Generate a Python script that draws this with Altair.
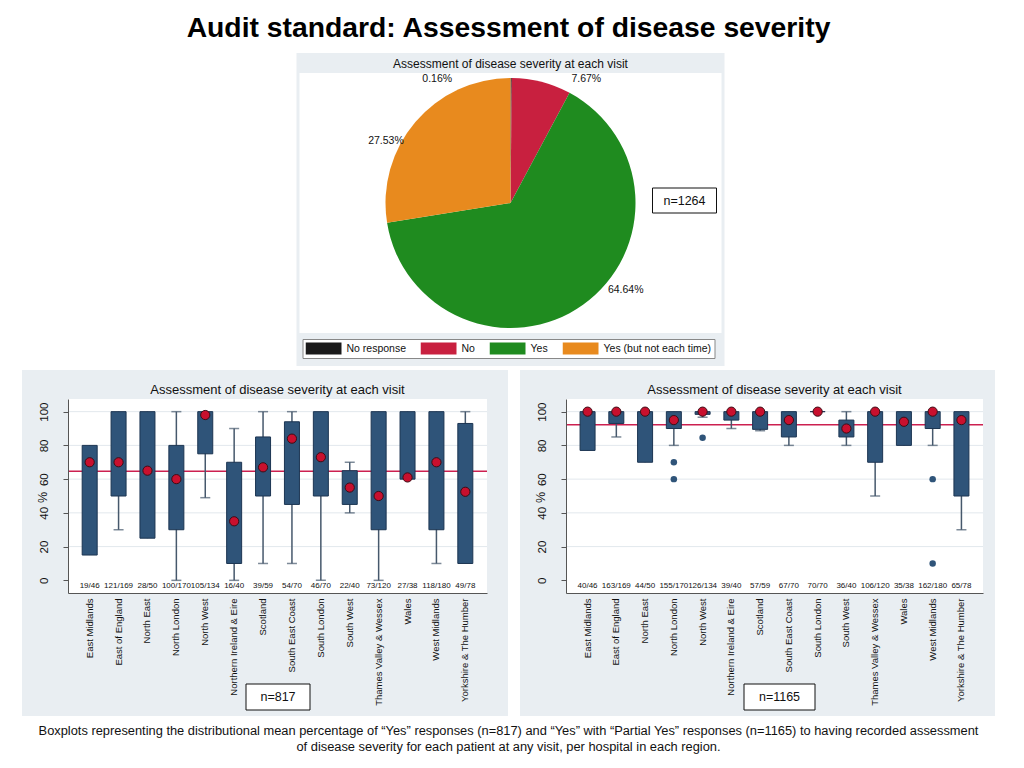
import math
import altair as alt
import pandas as pd

# ---------------- data ----------------
title_text = "Audit standard: Assessment of disease severity"
panel_title = "Assessment of disease severity at each visit"
caption_lines = [
    "Boxplots representing the distributional mean percentage of \u201cYes\u201d responses (n=817) and \u201cYes\u201d with \u201cPartial Yes\u201d responses (n=1165) to having recorded assessment",
    "of disease severity for each patient at any visit, per hospital in each region.",
]

pie_categories = ["No response", "No", "Yes", "Yes (but not each time)"]
pie_percent = [0.16, 7.67, 64.64, 27.53]
pie_labels = ["0.16%", "7.67%", "64.64%", "27.53%"]
pie_n = "n=1264"

regions = ["East Midlands", "East of England", "North East", "North London", "North West",
           "Northern Ireland & Eire", "Scotland", "South East Coast", "South London", "South West",
           "Thames Valley & Wessex", "Wales", "West Midlands", "Yorkshire & The Humber"]

# "Yes" responses (left)
yes_counts = ["19/46", "121/169", "28/50", "100/170", "105/134", "16/40", "39/59", "54/70",
              "46/70", "22/40", "73/120", "27/38", "118/180", "49/78"]
yes_q1 = [15, 50, 25, 30, 75, 10, 50, 45, 50, 45, 30, 60, 30, 10]
yes_q3 = [80, 100, 100, 80, 100, 70, 85, 94, 100, 65, 100, 100, 100, 93]
yes_lo = [15, 30, 25, 0, 49, 0, 10, 10, 0, 40, 0, 60, 10, 10]
yes_hi = [80, 100, 100, 100, 100, 90, 100, 100, 100, 70, 100, 100, 100, 100]
yes_mean = [70, 70, 65, 60, 98, 35, 67, 84, 73, 55, 50, 61, 70, 52.5]
yes_ref = 64.64
yes_n = "n=817"

# "Yes" + "Partial Yes" responses (right)
part_counts = ["40/46", "163/169", "44/50", "155/170", "126/134", "39/40", "57/59", "67/70",
               "70/70", "36/40", "106/120", "35/38", "162/180", "65/78"]
part_q1 = [77, 93, 70, 90, 98.4, 95, 89.5, 85, 100, 85, 70, 80, 90, 50]
part_q3 = [100, 100, 100, 100, 100, 100, 100, 100, 100, 95, 100, 100, 100, 100]
part_lo = [77, 85, 70, 80, 96.7, 90, 88.7, 80, 100, 80, 50, 80, 80, 30]
part_hi = [100, 100, 100, 100, 100, 100, 100, 100, 100, 100, 100, 100, 100, 100]
part_mean = [100, 100, 100, 95, 100, 100, 100, 95, 100, 90, 100, 94, 100, 95]
part_out_region = ["North London", "North London", "North West", "West Midlands", "West Midlands"]
part_out_value = [70, 60, 84.5, 60, 10]
part_ref = 92.17
part_n = "n=1165"

y_ticks = [0, 20, 40, 60, 80, 100]
grid_values = [20, 40, 60, 80, 100]

# ---------------- styles ----------------
FONT = "Liberation Sans"
PANEL = "#e9eef2"
GRID = "#e2e8ed"
BOX_FILL = "#2f5479"
BOX_STROKE = "#1c3552"
WHISKER = "#46586c"
MEAN = "#c8102e"
REF = "#cc2050"
PIE_COLORS = ["#1a1a1a", "#c8203f", "#1f8b1f", "#e88a1e"]
AXIS_COL = "#555555"

H = 194
ONE = alt.Data(values=[{"a": 1}])


def box_panel(counts, q1, q3, lo, hi, mean, ref, out_r, out_v, n_text, width, right_margin):
    df = pd.DataFrame({"region": regions, "count": counts, "q1": q1, "q3": q3,
                       "lo": lo, "hi": hi, "mean": mean})
    xaxis = alt.Axis(title=None, labelAngle=270, labelAlign="right", labelBaseline="middle",
                     labelFontSize=9.5, labelColor="#111", labelPadding=5, ticks=False,
                     domainColor=AXIS_COL, domainWidth=1, labelLimit=200, zindex=1)
    yaxis = alt.Axis(title="%", values=y_ticks, grid=False, labelAngle=270, labelAlign="center",
                     labelBaseline="middle", labelFontSize=11.5, labelColor="#111",
                     tickSize=5, tickColor=AXIS_COL, labelPadding=19, domainColor=AXIS_COL,
                     titleAngle=270, titleX=-26, titleY=98, titleAlign="center",
                     titleBaseline="middle", titleFontSize=12.5, titleFontWeight="normal",
                     titleColor="#111", zindex=1)
    yscale = alt.Scale(domain=[-7.5, 107.5], nice=False, zero=False)
    xscale = alt.Scale(paddingInner=0.5, paddingOuter=0.5)
    X = alt.X("region:N", sort=regions, scale=xscale, axis=xaxis)

    def Y(f):
        return alt.Y(f, scale=yscale, axis=yaxis)

    bg = alt.Chart(ONE).mark_rect(fill=PANEL).encode(
        x=alt.value(-46), x2=alt.value(width + right_margin), y=alt.value(-29), y2=alt.value(H + 123))
    white = alt.Chart(ONE).mark_rect(fill="white").encode(
        x=alt.value(0), x2=alt.value(width), y=alt.value(0), y2=alt.value(H))
    ttl = alt.Chart(ONE).mark_text(fontSize=13, color="#111", baseline="middle").encode(
        x=alt.value(width / 2), y=alt.value(-9), text=alt.value(panel_title))
    grid = alt.Chart(pd.DataFrame({"v": grid_values})).mark_rule(color=GRID, strokeWidth=1).encode(
        y=Y("v:Q"))
    refl = alt.Chart(pd.DataFrame({"v": [ref]})).mark_rule(color=REF, strokeWidth=1.5).encode(
        y=Y("v:Q"))
    base = alt.Chart(df)
    whisk = base.mark_rule(color=WHISKER, strokeWidth=1.5).encode(x=X, y=Y("lo:Q"), y2="hi:Q")
    cap_lo = base.transform_filter("datum.lo < datum.q1").mark_tick(
        color=WHISKER, size=10, thickness=1.5, orient="horizontal").encode(x=X, y=Y("lo:Q"))
    cap_hi = base.transform_filter("datum.hi > datum.q3").mark_tick(
        color=WHISKER, size=10, thickness=1.5, orient="horizontal").encode(x=X, y=Y("hi:Q"))
    box = base.mark_bar(size=15, fill=BOX_FILL, stroke=BOX_STROKE, strokeWidth=1).encode(
        x=X, y=Y("q1:Q"), y2="q3:Q")
    layers = [bg, white, ttl, grid, refl, whisk, cap_lo, cap_hi, box]
    if out_r:
        odf = pd.DataFrame({"region": out_r, "v": out_v})
        layers.append(alt.Chart(odf).mark_circle(size=42, color=BOX_FILL, opacity=1).encode(
            x=X, y=Y("v:Q")))
    layers.append(base.mark_circle(size=85, color=MEAN, opacity=1, stroke="#3c0d16",
                                   strokeWidth=1).encode(x=X, y=Y("mean:Q")))
    layers.append(base.mark_text(fontSize=8, color="#111", baseline="middle").encode(
        x=X, y=alt.value(H - 7), text="count:N"))
    bw = 64 if len(n_text) < 6 else 71
    layers.append(alt.Chart(ONE).mark_rect(fill="white", stroke="#111", strokeWidth=1).encode(
        x=alt.value(178), x2=alt.value(178 + bw), y=alt.value(285), y2=alt.value(311)))
    layers.append(alt.Chart(ONE).mark_text(fontSize=12.5, color="#111").encode(
        x=alt.value(178 + bw / 2), y=alt.value(298), text=alt.value(n_text)))
    return alt.layer(*layers).properties(width=width, height=H)


left = box_panel(yes_counts, yes_q1, yes_q3, yes_lo, yes_hi, yes_mean, yes_ref, [], [],
                 yes_n, 419, 21)
right = box_panel(part_counts, part_q1, part_q3, part_lo, part_hi, part_mean, part_ref,
                  part_out_region, part_out_value, part_n, 417, 12)

# ---------------- pie ----------------
PW, PH = 422, 260
SHIFT = 21  # extra empty view width on the right so the centred panel sits further left
CX, CY = PW / 2, PH / 2
pie_df = pd.DataFrame({"cat": pie_categories, "pct": pie_percent, "label": pie_labels})
pie_df["end"] = pie_df["pct"].cumsum()
pie_df["start"] = pie_df["end"] - pie_df["pct"]
pie_df["mid"] = (pie_df["start"] + pie_df["end"]) / 2
theta_scale = alt.Scale(domain=[0, 100], range=[0, 2 * math.pi])

pie_bg = alt.Chart(ONE).mark_rect(fill=PANEL).encode(
    x=alt.value(-3), x2=alt.value(PW + 3), y=alt.value(-20), y2=alt.value(PH + 33))
pie_white = alt.Chart(ONE).mark_rect(fill="white").encode(
    x=alt.value(0), x2=alt.value(PW), y=alt.value(0), y2=alt.value(PH))
pie_ttl = alt.Chart(ONE).mark_text(fontSize=12, color="#111", baseline="middle").encode(
    x=alt.value(CX), y=alt.value(-9), text=alt.value(panel_title))
arcs = alt.Chart(pie_df).mark_arc(outerRadius=125).encode(
    x=alt.value(CX), y=alt.value(CY),
    theta=alt.Theta("start:Q", scale=theta_scale),
    theta2="end:Q",
    color=alt.Color("cat:N", sort=pie_categories,
                    scale=alt.Scale(domain=pie_categories, range=PIE_COLORS),
                    legend=alt.Legend(title=None, orient="none", legendX=3, legendY=266,
                                      direction="horizontal",
                                      symbolType="M-1,-0.333H1V0.333H-1Z", symbolSize=1296,
                                      clipHeight=13, symbolStrokeWidth=0, symbolOpacity=1,
                                      labelFontSize=10.5, labelColor="#111", labelOffset=5,
                                      columnPadding=14, padding=3, strokeColor="#888",
                                      fillColor="white")),
)
label_offsets = {"0.16%": (-74, 16), "7.67%": (41, 12), "64.64%": (34, -27), "27.53%": (-18, 29)}
pie_texts = []
for lab, (ddx, ddy) in label_offsets.items():
    pie_texts.append(
        alt.Chart(pie_df).transform_filter(alt.datum.label == lab)
        .mark_text(radius=140, dx=ddx, dy=ddy, fontSize=10.5, color="#111")
        .encode(x=alt.value(CX), y=alt.value(CY),
                theta=alt.Theta("mid:Q", scale=theta_scale), text="label:N"))
pie_nbox = alt.Chart(ONE).mark_rect(fill="white", stroke="#111", strokeWidth=1).encode(
    x=alt.value(353), x2=alt.value(417), y=alt.value(115), y2=alt.value(140))
pie_ntext = alt.Chart(ONE).mark_text(fontSize=12.5, color="#111").encode(
    x=alt.value(385), y=alt.value(127.5), text=alt.value(pie_n))

pie = alt.layer(pie_bg, pie_white, pie_ttl, arcs, *pie_texts, pie_nbox, pie_ntext).properties(
    width=PW + 2 * SHIFT, height=PH)

bottom = alt.hconcat(left, right, spacing=12).properties(
    title=alt.TitleParams(caption_lines, orient="bottom", anchor="middle", fontSize=12.85,
                          lineHeight=16, offset=9, fontWeight="normal", color="#111"))

chart = alt.vconcat(pie, bottom, spacing=4, center=True).properties(
    title=alt.TitleParams(title_text, fontSize=28.3, fontWeight="bold", anchor="middle",
                          color="#000", offset=10),
    padding={"left": 14, "top": 5, "right": 5, "bottom": 0},
).resolve_legend(color="independent").configure(
    font=FONT, background="white").configure_view(stroke=None)

chart.save("out.html", embed_options={"renderer": "svg", "actions": False})
